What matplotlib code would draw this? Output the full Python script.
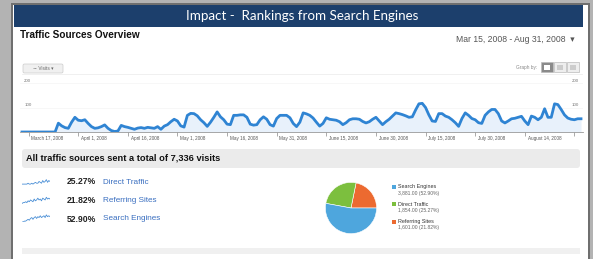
import numpy as np
import matplotlib
matplotlib.use('Agg')
import matplotlib.pyplot as plt
from matplotlib.patches import Rectangle, FancyBboxPatch

W, H = 593, 259

# daily visits, Mar 15 2008 .. Aug 31 2008 (170 days)
visits = [
    0, 0, 0, 0, 0, 0, 0, 0, 0, 0, 0, 36, 25, 18, 15, 40, 60, 48, 46, 50,
    35, 22, 15, 17, 22, 29, 15, 6, 2, 4, 27, 22, 19, 15, 11, 16, 18, 15, 19, 17,
    15, 22, 11, 24, 30, 42, 52, 45, 25, 20, 68, 76, 75, 66, 50, 38, 23, 40, 60, 82,
    62, 50, 32, 30, 68, 68, 70, 70, 60, 32, 28, 30, 50, 62, 52, 30, 24, 55, 68, 68,
    68, 58, 35, 22, 40, 78, 74, 68, 57, 40, 24, 35, 58, 52, 50, 48, 42, 30, 38, 50,
    54, 54, 52, 43, 37, 42, 52, 60, 45, 30, 42, 52, 65, 78, 75, 71, 66, 60, 62, 90,
    115, 117, 100, 70, 45, 43, 75, 75, 65, 60, 50, 38, 23, 55, 78, 68, 55, 50, 38, 35,
    68, 82, 92, 92, 75, 45, 37, 45, 54, 56, 60, 64, 45, 30, 65, 60, 50, 60, 95, 60,
    60, 115, 112, 92, 70, 57, 52, 50, 54, 54,
]
tick_days = [2, 17, 32, 47, 62, 77, 92, 107, 122, 137, 152, 167]
tick_labels = ['March 17, 2008', 'April 1, 2008', 'April 16, 2008', 'May 1, 2008',
               'May 16, 2008', 'May 31, 2008', 'June 15, 2008', 'June 30, 2008',
               'July 15, 2008', 'July 30, 2008', 'August 14, 2008', '']
y_ticks = [100, 200]

sources = ['Search Engines', 'Direct Traffic', 'Referring Sites']
source_visits = [3881, 1854, 1601]
source_pct = [52.90, 25.27, 21.82]
source_colors = ['#4ea6dd', '#7cbf3e', '#ec6a30']
row_order = [1, 2, 0]  # Direct, Referring, Search in the list on the left

spark_direct = [1, 1, 1, 1, 1, 2, 1, 1, 2, 1, 2, 3, 2, 2, 4, 3, 2, 5, 3, 4, 6, 3, 5, 4]
spark_referring = [0, 1, 1, 2, 1, 3, 2, 4, 3, 2, 5, 3, 4, 6, 4, 5, 3, 6, 5, 4, 7, 5, 6, 5]
spark_search = [0, 0, 1, 1, 2, 3, 2, 4, 5, 3, 5, 6, 4, 6, 5, 7, 5, 6, 7, 5, 8, 6, 7, 6]
sparks = {'Direct Traffic': spark_direct, 'Referring Sites': spark_referring,
          'Search Engines': spark_search}

total = sum(source_visits)


def box(x0, y0, w, h):
    return [x0 / W, 1 - (y0 + h) / H, w / W, h / H]


plt.rcParams['font.family'] = ['Liberation Sans', 'DejaVu Sans']
fig = plt.figure(figsize=(W / 100, H / 100), dpi=100)
fig.patch.set_facecolor('#b3b3b3')

# page overlay in pixel coordinates
bg = fig.add_axes([0, 0, 1, 1], zorder=0)
bg.set_xlim(0, W)
bg.set_ylim(H, 0)
bg.axis('off')

bg.add_patch(Rectangle((11, 3), 579, 260, facecolor='#6f6f6f', edgecolor='none'))
bg.add_patch(Rectangle((13, 5), 575, 260, facecolor='white', edgecolor='none'))
bg.add_patch(Rectangle((14, 5), 569, 22, facecolor='#1c3f6c', edgecolor='none'))
bg.text(302, 16.5, 'Impact -  Rankings from Search Engines', color='white',
        fontsize=9.6, family='Lato', ha='center', va='center')

bg.text(20, 35, 'Traffic Sources Overview', fontsize=7.2, fontweight='bold',
        ha='left', va='center', color='#111111')
bg.text(575, 40, 'Mar 15, 2008 - Aug 31, 2008  \u25be', fontsize=6.2,
        ha='right', va='center', color='#555555')

# Visits button and graph-by icons
bg.add_patch(FancyBboxPatch((23, 64), 40, 9, boxstyle='round,pad=0,rounding_size=1.5',
                            facecolor='#f0f0f0', edgecolor='#cccccc', lw=0.5))
bg.text(43, 68.7, '\u223c Visits \u25be', fontsize=3.4, ha='center', va='center',
        color='#666666')
bg.text(537, 67, 'Graph by:', fontsize=3.4, ha='right', va='center', color='#888888')
for i, fc in enumerate(['#8a8a8a', '#eeeeee', '#eeeeee']):
    bg.add_patch(Rectangle((541 + i * 13, 62), 12, 10, facecolor=fc,
                           edgecolor='#bbbbbb', lw=0.5))
    bg.add_patch(Rectangle((544 + i * 13, 64.5), 6, 5, facecolor='white' if i == 0 else '#cccccc',
                           edgecolor='none'))
bg.plot([22, 582], [74, 74], color='#eeeeee', lw=0.6)

# summary bar
bg.add_patch(FancyBboxPatch((22, 149), 558, 19, boxstyle='round,pad=0,rounding_size=3',
                            facecolor='#ebebeb', edgecolor='none'))
bg.text(26, 158.5, 'All traffic sources sent a total of {:,} visits'.format(total),
        fontsize=6.7, fontweight='bold', ha='left', va='center', color='#111111')
bg.add_patch(Rectangle((22, 248), 558, 6, facecolor='#f0f0f0', edgecolor='none'))

# rows on the left
row_y = [182, 200.5, 219]
for ry, idx in zip(row_y, row_order):
    name = sources[idx]
    bg.text(67, ry, '{:.2f}%'.format(source_pct[idx]), fontsize=6.2, fontweight='bold',
            ha='left', va='center', color='#222222')
    bg.text(103, ry, name, fontsize=5.9, ha='left', va='center', color='#3a6fc0')
    sp = fig.add_axes(box(22, ry - 5, 28, 8), zorder=1)
    sp.plot(sparks[name], color='#4a8fd6', lw=0.6)
    sp.set_xlim(0, len(sparks[name]) - 1)
    sp.set_ylim(0, 9)
    sp.axis('off')

# line chart
ax = fig.add_axes(box(20, 72, 563, 60), zorder=1)
ax.set_facecolor('none')
days = np.arange(len(visits))
ax.fill_between(days, visits, 0, color='#e8f1fb', lw=0)
ax.plot(days, visits, color='#2f84d3', lw=2.0, solid_joinstyle='round')
ax.set_xlim(-0.6, 169.6)
ax.set_ylim(0, 60 / 0.245)
for s in ['top', 'right', 'left']:
    ax.spines[s].set_visible(False)
ax.spines['bottom'].set_color('#999999')
ax.spines['bottom'].set_linewidth(0.6)
ax.set_yticks([])
ax.set_xticks(tick_days)
ax.set_xticklabels([])
ax.tick_params(axis='x', length=3, width=0.5, color='#888888', direction='out')
for d, lab in zip(tick_days, tick_labels):
    ax.annotate(lab, xy=(d, 0), xytext=(2, -4.5), textcoords='offset points',
                fontsize=3.3, ha='left', va='center', color='#555555')
for v in y_ticks:
    ax.axhline(v, color='#f4f4f4', lw=0.5, zorder=0)
    ax.annotate(str(v), xy=(0, v), xycoords=('axes fraction', 'data'),
                xytext=(3, 1.5), textcoords='offset points', fontsize=3.2,
                ha='left', va='center', color='#777777')
    ax.annotate(str(v), xy=(1, v), xycoords=('axes fraction', 'data'),
                xytext=(-3, 1.5), textcoords='offset points', fontsize=3.2,
                ha='right', va='center', color='#777777')

# pie chart
pa = fig.add_axes(box(319, 176, 64, 64), zorder=1)
pie_vals = [source_visits[2], source_visits[1], source_visits[0]]
pie_cols = [source_colors[2], source_colors[1], source_colors[0]]
pa.pie(pie_vals, colors=pie_cols, startangle=0, counterclock=True,
       wedgeprops=dict(edgecolor='white', linewidth=0.4))
pa.set_aspect('equal')

# pie legend
leg_y = [186.5, 204, 221.5]
for ly, idx in zip(leg_y, [0, 1, 2]):
    bg.add_patch(Rectangle((391.5, ly - 2), 4, 4, facecolor=source_colors[idx],
                           edgecolor='none'))
    bg.text(398, ly, sources[idx], fontsize=3.9, ha='left', va='center', color='#333333')
    bg.text(398, ly + 6.5, '{:,.2f} ({:.2f}%)'.format(source_visits[idx], source_pct[idx]),
            fontsize=3.6, ha='left', va='center', color='#666666')

fig.savefig('out.png', dpi=100, facecolor=fig.get_facecolor())
